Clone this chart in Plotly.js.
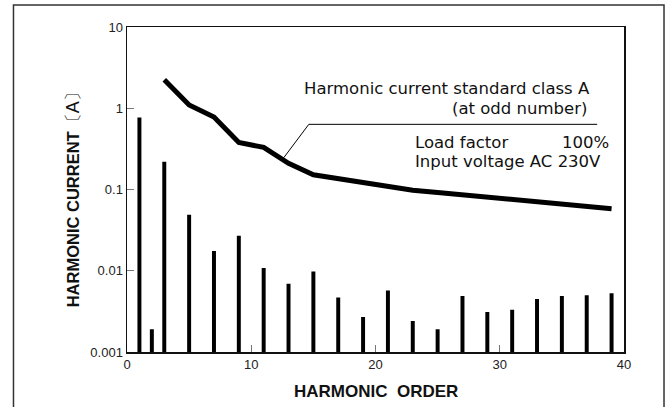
<!DOCTYPE html>
<html>
<head>
<meta charset="utf-8">
<script src="https://cdn.plot.ly/plotly-3.0.1.min.js"></script>
<style>
  html, body { margin: 0; padding: 0; background: #fff; }
  #chart { width: 669px; height: 407px; }
</style>
</head>
<body>
<div id="chart"></div>
<script>
// Measured harmonic current (A) by harmonic order
const harmonicOrders = [1, 2, 3, 5, 7, 9, 11, 13, 15, 17, 19, 21, 23, 25, 27, 29, 31, 33, 35, 37, 39];
const measuredCurrent = [0.77, 0.0019, 0.22, 0.049, 0.0175, 0.027, 0.0108, 0.0069, 0.0098, 0.0047, 0.0027,
                         0.0057, 0.0024, 0.0019, 0.0049, 0.0031, 0.0033, 0.0045, 0.0049, 0.0050, 0.0053];

// Harmonic current standard class A (odd orders)
const limitOrders = [3, 5, 7, 9, 11, 13, 15, 17, 19, 21, 23, 25, 27, 29, 31, 33, 35, 37, 39];
const limitCurrent = [2.25, 1.1, 0.78, 0.38, 0.33, 0.21, 0.152, 0.135, 0.121, 0.108, 0.098, 0.092,
                      0.086, 0.081, 0.076, 0.071, 0.066, 0.062, 0.058];

const xTickVals = [0, 10, 20, 30, 40];
const yTickVals = [0.001, 0.01, 0.1, 1, 10];
const yTickText = ["0.001", "0.01", "0.1", "1", "10"];

const SANS = "Liberation Sans, Arial, Helvetica, sans-serif";
const NOTE = "DejaVu Sans, sans-serif";

const traces = [
  {
    type: "bar",
    x: harmonicOrders,
    y: measuredCurrent,
    width: 0.32,
    marker: { color: "#000", line: { width: 0 } },
    hoverinfo: "x+y",
    showlegend: false
  },
  {
    type: "scatter",
    mode: "lines",
    x: limitOrders,
    y: limitCurrent,
    line: { color: "#000", width: 5 },
    showlegend: false
  }
];

const layout = {
  width: 669,
  height: 407,
  margin: { l: 127, r: 45, t: 27, b: 55, pad: 0 },
  paper_bgcolor: "#fff",
  plot_bgcolor: "#fff",
  showlegend: false,
  font: { family: SANS, color: "#222", size: 13 },
  xaxis: {
    range: [0, 40],
    tickvals: xTickVals,
    ticks: "inside",
    ticklen: 7,
    tickwidth: 1,
    tickcolor: "#777",
    showline: true,
    linecolor: "#111",
    linewidth: 1.5,
    mirror: true,
    showgrid: false,
    zeroline: false,
    tickfont: { family: SANS, size: 13, color: "#222" },
    fixedrange: true
  },
  yaxis: {
    type: "log",
    range: [-3, 1],
    tickvals: yTickVals,
    ticktext: yTickText,
    ticks: "inside",
    ticklen: 7,
    tickwidth: 1,
    tickcolor: "#777",
    showline: true,
    linecolor: "#111",
    linewidth: 1.5,
    mirror: true,
    showgrid: false,
    zeroline: false,
    tickfont: { family: SANS, size: 13, color: "#222" },
    fixedrange: true
  },
  shapes: [
    // outer frame (open at the bottom edge)
    { type: "rect", xref: "paper", yref: "paper", x0: -0.2284, x1: 1.0805, y0: -0.2, y1: 1.0676,
      line: { color: "#333", width: 1.5 }, layer: "below" },
    // leader line for the standard curve
    { type: "path", xref: "paper", yref: "paper",
      path: "M 0.3155 0.598 L 0.3658 0.7005 L 0.946 0.7005",
      line: { color: "#000", width: 1 } }
  ],
  annotations: [
    { xref: "paper", yref: "paper", x: 0.936, y: 0.8117, xanchor: "right", yanchor: "middle",
      text: "Harmonic current standard class A", showarrow: false,
      font: { family: NOTE, size: 16.5, color: "#111" } },
    { xref: "paper", yref: "paper", x: 0.929, y: 0.7502, xanchor: "right", yanchor: "middle",
      text: "(at odd number)", showarrow: false,
      font: { family: NOTE, size: 16.5, color: "#111" } },
    { xref: "paper", yref: "paper", x: 0.575, y: 0.6458, xanchor: "left", yanchor: "middle",
      text: "Load factor", showarrow: false,
      font: { family: NOTE, size: 16.5, color: "#111" } },
    { xref: "paper", yref: "paper", x: 0.973, y: 0.6458, xanchor: "right", yanchor: "middle",
      text: "100%", showarrow: false,
      font: { family: NOTE, size: 16.5, color: "#111" } },
    { xref: "paper", yref: "paper", x: 0.575, y: 0.5862, xanchor: "left", yanchor: "middle",
      text: "Input voltage AC 230V", showarrow: false,
      font: { family: NOTE, size: 16.5, color: "#111" } },
    // axis titles
    { xref: "paper", yref: "paper", x: 0.5, y: -0.121, xanchor: "center", yanchor: "middle",
      text: "<b>HARMONIC\u00a0 ORDER</b>", showarrow: false,
      font: { family: SANS, size: 17, color: "#111" } },
    { xref: "paper", yref: "paper", x: -0.1087, y: 0.482, xanchor: "center", yanchor: "middle",
      textangle: -90,
      text: "<b>HARMONIC CURRENT</b><span style=\"font-size:18px\">〔A〕</span>", showarrow: false,
      font: { family: SANS, size: 16.5, color: "#111" } }
  ]
};

Plotly.newPlot("chart", traces, layout, { staticPlot: true, displayModeBar: false });
</script>
</body>
</html>
